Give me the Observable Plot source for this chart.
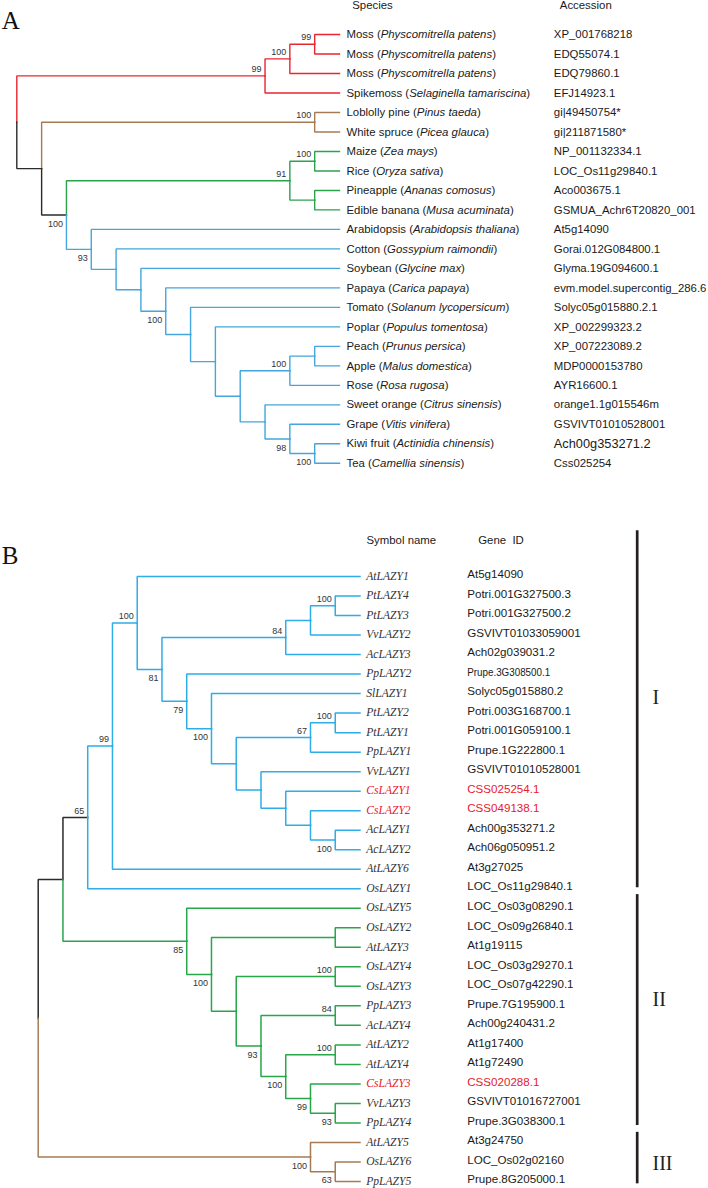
<!DOCTYPE html>
<html><head><meta charset="utf-8">
<script src="https://cdn.jsdelivr.net/npm/d3@7"></script>
<script src="https://cdn.jsdelivr.net/npm/@observablehq/plot@0.6"></script>
<style>
html,body{margin:0;padding:0;background:#fff;}
#chart svg{display:block;}
</style></head><body><div id="chart"></div>
<script>
// ================= DATA =================
// Panel A: tree topology (Newick; number = bootstrap, "b" = label drawn below the branch, {group} = clade colour group)
const newickA = "((((Moss1,Moss2)99,Moss3)100,Spikemoss)99{bryophyte}," +
  "((Pine,Spruce)100{gymnosperm}," +
  "(((Maize,Rice)100,(Pineapple,Banana))91{monocot}," +
  "(Arabidopsis,(Cotton,(Soybean,(Papaya,(Tomato,(Poplar,(((Peach,Apple),Rose)100,(Orange,(Grape,(Kiwi,Tea)100b)98b)))))100b)))93b{eudicot})100b))";
const leafKeysA = ["Moss1","Moss2","Moss3","Spikemoss","Pine","Spruce","Maize","Rice","Pineapple","Banana","Arabidopsis","Cotton","Soybean","Papaya","Tomato","Poplar","Peach","Apple","Rose","Orange","Grape","Kiwi","Tea"];
const commonA = ["Moss","Moss","Moss","Spikemoss","Loblolly pine","White spruce","Maize","Rice","Pineapple","Edible banana","Arabidopsis","Cotton","Soybean","Papaya","Tomato","Poplar","Peach","Apple","Rose","Sweet orange","Grape","Kiwi fruit","Tea"];
const latinA = ["Physcomitrella patens","Physcomitrella patens","Physcomitrella patens","Selaginella tamariscina","Pinus taeda","Picea glauca","Zea mays","Oryza sativa","Ananas comosus","Musa acuminata","Arabidopsis thaliana","Gossypium raimondii","Glycine max","Carica papaya","Solanum lycopersicum","Populus tomentosa","Prunus persica","Malus domestica","Rosa rugosa","Citrus sinensis","Vitis vinifera","Actinidia chinensis","Camellia sinensis"];
const accessionA = ["XP_001768218","EDQ55074.1","EDQ79860.1","EFJ14923.1","gi|49450754*","gi|211871580*","NP_001132334.1","LOC_Os11g29840.1","Aco003675.1","GSMUA_Achr6T20820_001","At5g14090","Gorai.012G084800.1","Glyma.19G094600.1","evm.model.supercontig_286.6","Solyc05g015880.2.1","XP_002299323.2","XP_007223089.2","MDP0000153780","AYR16600.1","orange1.1g015546m","GSVIVT01010528001","Ach00g353271.2","Css025254"];
const headersA = ["Species", "Accession"];

// Panel B: subtrees in Newick, composed below
const cladeB_84 = "(((PtLAZY4,PtLAZY3)100,VvLAZY2),AcLAZY3)84";
const cladeB_67 = "((PtLAZY2,PtLAZY1)100,PpLAZY1)67";
const cladeB_Cs = "(VvLAZY1,(CsLAZY1,(CsLAZY2,(AcLAZY1,AcLAZY2)100b)))";
const cladeB_I = "(((AtLAZY1,(" + cladeB_84 + ",(PpLAZY2,(SlLAZY1,(" + cladeB_67 + "," + cladeB_Cs + "))100b)79b)81b)100,AtLAZY6)99{I},OsLAZY1{I})65";
const cladeB_II = "(OsLAZY5,((OsLAZY2,AtLAZY3),((OsLAZY4,OsLAZY3)100,((PpLAZY3,AcLAZY4)84,((AtLAZY2,AtLAZY4)100,(CsLAZY3,(VvLAZY3,PpLAZY4)93b)99b)100b)93b))100b)85b{II}";
const cladeB_III = "(AtLAZY5,(OsLAZY6,PpLAZY5)63b)100b{III}";
const newickB = "((" + cladeB_I + "," + cladeB_II + ")," + cladeB_III + ")";
const symbolsB = ["AtLAZY1","PtLAZY4","PtLAZY3","VvLAZY2","AcLAZY3","PpLAZY2","SlLAZY1","PtLAZY2","PtLAZY1","PpLAZY1","VvLAZY1","CsLAZY1","CsLAZY2","AcLAZY1","AcLAZY2","AtLAZY6","OsLAZY1","OsLAZY5","OsLAZY2","AtLAZY3","OsLAZY4","OsLAZY3","PpLAZY3","AcLAZY4","AtLAZY2","AtLAZY4","CsLAZY3","VvLAZY3","PpLAZY4","AtLAZY5","OsLAZY6","PpLAZY5"];
const geneIdsB = ["At5g14090","Potri.001G327500.3","Potri.001G327500.2","GSVIVT01033059001","Ach02g039031.2","Prupe.3G308500.1","Solyc05g015880.2","Potri.003G168700.1","Potri.001G059100.1","Prupe.1G222800.1","GSVIVT01010528001","CSS025254.1","CSS049138.1","Ach00g353271.2","Ach06g050951.2","At3g27025","LOC_Os11g29840.1","LOC_Os03g08290.1","LOC_Os09g26840.1","At1g19115","LOC_Os03g29270.1","LOC_Os07g42290.1","Prupe.7G195900.1","Ach00g240431.2","At1g17400","At1g72490","CSS020288.1","GSVIVT01016727001","Prupe.3G038300.1","At3g24750","LOC_Os02g02160","Prupe.8G205000.1"];
const highlightB = ["CsLAZY1","CsLAZY2","CsLAZY3"];
const headersB = ["Symbol name", "Gene\u00a0\u00a0ID"];
// clade bars (in leaf-row units)
const cladeNamesB = ["I","II","III"];
const cladeStartB = [-2.35, 16.3, 28.48];
const cladeEndB = [15.95, 28.13, 31.12];
const cladeLabelRowB = [6.23, 21.7, 30.1];

// ================= STYLE =================
const SANS = "'Liberation Sans', Arial, Helvetica, sans-serif";
const SERIF = "'Liberation Serif', 'Times New Roman', serif";
const colorA = {domain: ["root","bryophyte","gymnosperm","monocot","eudicot"], range: ["#2b2b2b","#e9262f","#a67b54","#2ba24c","#44a6dc"]};
const colorB = {domain: ["root","I","II","III"], range: ["#2b2b2b","#2eade8","#27a64a","#a67b54"]};

// ================= TREE LAYOUT =================
function parseNewick(str) {
  const s = str.replace(/\s+/g, "");
  let i = 0;
  function node() {
    const n = {};
    if (s[i] === "(") {
      i++;
      n.children = [node()];
      while (s[i] === ",") { i++; n.children.push(node()); }
      i++;
    }
    let tok = "";
    while (i < s.length && !",()".includes(s[i])) tok += s[i++];
    const m = tok.match(/^([^{]*)(?:\{([^}]*)\})?$/);
    n.label = m[1]; n.group = m[2] || null;
    return n;
  }
  return node();
}
function layout(str) {
  const root = d3.hierarchy(parseNewick(str));
  root.eachAfter(n => { n.h = n.children ? 1 + d3.max(n.children, c => c.h) : 0; });
  const H = root.h;
  const leaves = root.leaves();
  leaves.forEach((l, k) => l.row = k);
  root.eachAfter(n => { if (n.children) n.row = d3.mean(n.children, c => c.row); n.level = H - n.h; });
  root.eachBefore(n => { n.grp = n.data.group || (n.parent ? n.parent.grp : "root"); });
  const edges = [];
  root.descendants().forEach((n, k) => {
    if (!n.parent) return;
    const p = n.parent;
    edges.push({id: k, grp: n.grp, level: p.level, row: p.row});
    edges.push({id: k, grp: n.grp, level: p.level, row: n.row});
    edges.push({id: k, grp: n.grp, level: n.level, row: n.row});
  });
  const supports = root.descendants().filter(n => n.children && n.data.label).map(n => {
    const m = n.data.label.match(/^(\d+)(b?)$/);
    return {value: m[1], below: m[2] === "b", level: n.level, row: n.row};
  });
  return {leaves: leaves.map(l => ({name: l.data.label, row: l.row, level: l.level})), edges, supports, H};
}

const treeMarks = (T, sw) => [
  Plot.line(T.edges, {x: "level", y: "row", z: "id", stroke: "grp", strokeWidth: sw, strokeLinejoin: "miter", strokeLinecap: "square"}),
  Plot.text(T.supports.filter(d => !d.below), {x: "level", y: "row", text: "value", textAnchor: "end", dx: -3.5, dy: -6.8, fontSize: 9, fill: "#333", fontFamily: SANS}),
  Plot.text(T.supports.filter(d => d.below), {x: "level", y: "row", text: "value", textAnchor: "end", dx: -3.5, dy: 8.7, fontSize: 9, fill: "#333", fontFamily: SANS})
];

// ================= PANEL A =================
const TA = layout(newickA);
const leavesA = TA.leaves.map(l => {
  const k = leafKeysA.indexOf(l.name);
  return {...l, species: `${commonA[k]} (${latinA[k]})`, acc: accessionA[k]};
});
const bigAcc = ["Ach00g353271.2"];
const plotA = Plot.plot({
  width: 708, height: 500, margin: 0,
  style: {fontFamily: SANS, background: "#fff", overflow: "visible"},
  x: {domain: [0, TA.H], range: [16.3, 339], axis: null},
  y: {domain: [0, TA.leaves.length - 1], range: [34, 462.8], axis: null},
  color: colorA,
  marks: [
    ...treeMarks(TA, 1.4),
    Plot.text(leavesA, {x: "level", y: "row", text: "species", dx: 7, textAnchor: "start", fontSize: 11.4, fill: "#1a1a1a", fontFamily: SANS}),
    Plot.text(leavesA.filter(d => !bigAcc.includes(d.acc)), {x: "level", y: "row", text: "acc", dx: 214.3, textAnchor: "start", fontSize: 11.4, fill: "#1a1a1a", fontFamily: SANS}),
    Plot.text(leavesA.filter(d => bigAcc.includes(d.acc)), {x: "level", y: "row", text: "acc", dx: 214.3, textAnchor: "start", fontSize: 12.8, fill: "#1a1a1a", fontFamily: SANS}),
    Plot.text([headersA[0]], {frameAnchor: "top-left", text: d => d, dx: 351.7, dy: 5.3, textAnchor: "start", lineAnchor: "middle", fontSize: 11.4, fill: "#1a1a1a", fontFamily: SANS}),
    Plot.text([headersA[1]], {frameAnchor: "top-left", text: d => d, dx: 559.3, dy: 5.3, textAnchor: "start", lineAnchor: "middle", fontSize: 11.4, fill: "#1a1a1a", fontFamily: SANS}),
    Plot.text(["A"], {frameAnchor: "top-left", text: d => d, dx: 1.2, dy: 20, textAnchor: "start", lineAnchor: "middle", fontSize: 25, fill: "#111", fontFamily: SERIF})
  ]
});

// ================= PANEL B =================
const TB = layout(newickB);
const leavesB = TB.leaves.map(l => ({...l, gene: geneIdsB[symbolsB.indexOf(l.name)], hi: highlightB.includes(l.name)}));
const cladesB = cladeNamesB.map((name, k) => ({name, start: cladeStartB[k], end: cladeEndB[k], labelRow: cladeLabelRowB[k]}));
const plotB = Plot.plot({
  width: 708, height: 688, margin: 0,
  style: {fontFamily: SANS, background: "#fff", overflow: "visible"},
  x: {domain: [0, TB.H], range: [37.7, 359.5], axis: null},
  y: {domain: [0, TB.leaves.length - 1], range: [76, 681], axis: null},
  color: colorB,
  marks: [
    ...treeMarks(TB, 1.5),
    Plot.text(leavesB.filter(d => !d.hi), {x: "level", y: "row", text: "name", dx: 6.2, dy: -0.5, textAnchor: "start", fontSize: 11.6, fontStyle: "italic", fill: "#333", fontFamily: SERIF}),
    Plot.text(leavesB.filter(d => d.hi), {x: "level", y: "row", text: "name", dx: 6.2, dy: -0.5, textAnchor: "start", fontSize: 11.6, fontStyle: "italic", fill: "#e8202a", fontFamily: SERIF}),
    Plot.text(leavesB.filter(d => !d.hi), {x: "level", y: "row", text: "gene", dx: 107.2, dy: -2, textAnchor: "start", fontSize: 11.6, fill: "#1a1a1a", fontFamily: SANS}),
    Plot.text(leavesB.filter(d => d.hi), {x: "level", y: "row", text: "gene", dx: 107.2, dy: -2, textAnchor: "start", fontSize: 11.6, fill: "#e8202a", fontFamily: SANS}),
    Plot.ruleX(cladesB, {x: () => TB.H, y1: "start", y2: "end", dx: 277.2, stroke: "#231f20", strokeWidth: 2.7}),
    Plot.text(cladesB, {x: () => TB.H, y: "labelRow", text: "name", dx: 292.5, textAnchor: "start", fontSize: 20, fill: "#231f20", fontFamily: SERIF}),
    Plot.text([headersB[0]], {frameAnchor: "top-left", text: d => d, dx: 366, dy: 40, textAnchor: "start", lineAnchor: "middle", fontSize: 11.4, fill: "#1a1a1a", fontFamily: SANS}),
    Plot.text([headersB[1]], {frameAnchor: "top-left", text: d => d, dx: 477.7, dy: 40, textAnchor: "start", lineAnchor: "middle", fontSize: 11.4, fill: "#1a1a1a", fontFamily: SANS}),
    Plot.text(["B"], {frameAnchor: "top-left", text: d => d, dx: 1.2, dy: 55.3, textAnchor: "start", lineAnchor: "middle", fontSize: 25, fill: "#111", fontFamily: SERIF})
  ]
});

const chart = document.getElementById("chart");
chart.appendChild(plotA);
chart.appendChild(plotB);

// italicise the scientific names in panel A labels
const NS = "http://www.w3.org/2000/svg";
plotA.querySelectorAll("text").forEach(t => {
  const m = t.textContent.match(/^(.*) \((.+)\)$/);
  if (!m) return;
  t.textContent = "";
  const a = document.createElementNS(NS, "tspan"); a.textContent = m[1] + " (";
  const b = document.createElementNS(NS, "tspan"); b.textContent = m[2]; b.setAttribute("font-style", "italic");
  const c = document.createElementNS(NS, "tspan"); c.textContent = ")";
  t.append(a, b, c);
});
// the one condensed gene id in panel B
plotB.querySelectorAll("text").forEach(t => {
  if (t.textContent === "Prupe.3G308500.1") { t.setAttribute("textLength", "83"); t.setAttribute("lengthAdjust", "spacingAndGlyphs"); }
});
</script>
</body></html>
